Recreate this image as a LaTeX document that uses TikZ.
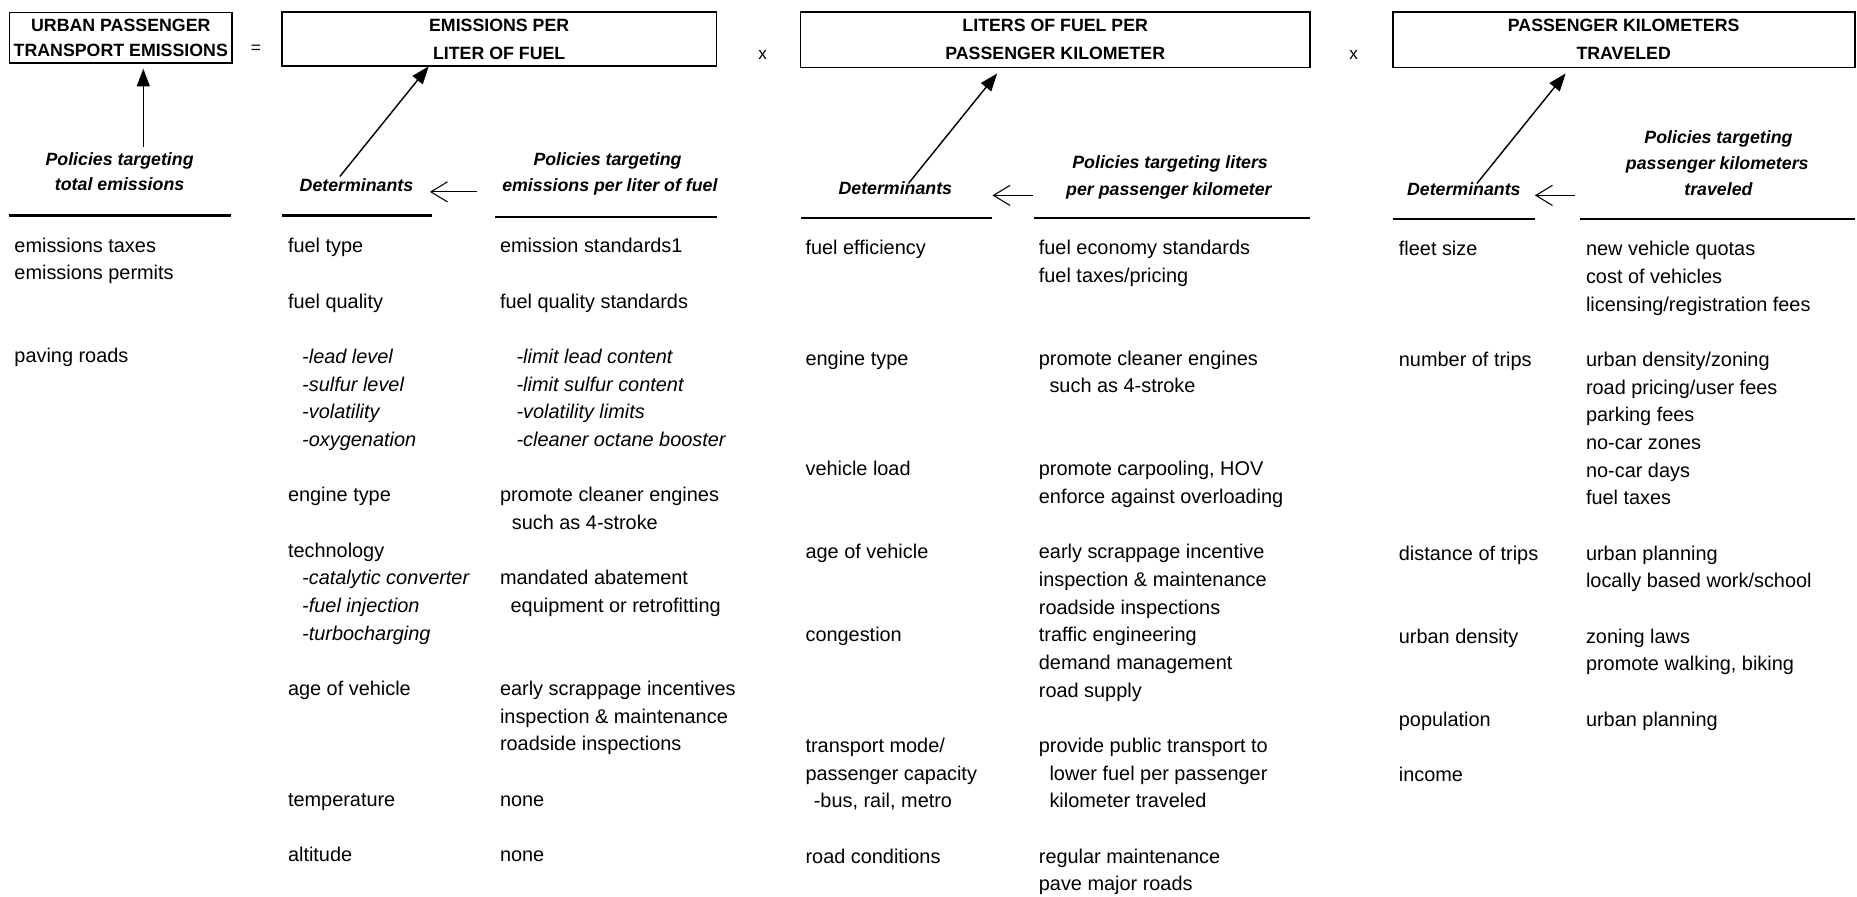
\documentclass[tikz,border=0pt]{standalone}
\usepackage{fontspec}
\setmainfont{Liberation Sans}
\usetikzlibrary{arrows.meta}
\newcommand\rowh{23.36}
\newcommand\blk[5]{\foreach \t [count=\i] in {#5}{\node[#4] (#1\i) at (#2,{#3+(\i-1)*\rowh}) {\t};}}
\begin{document}
\begin{tikzpicture}[x=1bp,y=-1bp,
 body/.style={anchor=base west, inner sep=0pt, font=\fontsize{16.8bp}{20bp}\selectfont},
 sub/.style={anchor=base west, inner sep=0pt, font=\fontsize{16.8bp}{20bp}\selectfont\itshape},
 head/.style={anchor=base, inner sep=0pt, font=\fontsize{15bp}{18bp}\selectfont\bfseries\itshape},
 caps/.style={anchor=base, inner sep=0pt, font=\fontsize{15bp}{18bp}\selectfont\bfseries},
 sym/.style={anchor=center, inner sep=0pt, font=\fontsize{14.5bp}{16bp}\selectfont},
 hbox/.style={draw, line width=1.5bp, inner sep=0pt},
 rule/.style={line width=1.8bp},
 bigarrow/.style={line width=1.2bp, -{Triangle[length=15bp,width=11bp]}},
 smallarrow/.style={line width=0.9bp, -{Straight Barb[length=14bp,width=17bp]}}]
\fill[white] (0,0) rectangle (1568,757);
\useasboundingbox (0,0) rectangle (1568,757);
% header boxes
\node[hbox, minimum width=188bp, minimum height=42.5bp] (b1) at (102,31.75) {};
\node[hbox, minimum width=367bp, minimum height=46bp] (b2) at (421.5,33) {};
\node[hbox, minimum width=430bp, minimum height=47bp] (b3) at (891,33.5) {};
\node[hbox, minimum width=390bp, minimum height=47bp] (b4) at (1371,33.5) {};
\node[caps] (b1t1) at (102,26.5) {URBAN PASSENGER};
\node[caps] (b1t2) at (102,47.5) {TRANSPORT EMISSIONS};
\node[caps] (b2t1) at (421.5,27) {EMISSIONS PER};
\node[caps] (b2t2) at (421.5,50.5) {LITER OF FUEL};
\node[caps] (b3t1) at (891,27) {LITERS OF FUEL PER};
\node[caps] (b3t2) at (891,50.5) {PASSENGER KILOMETER};
\node[caps] (b4t1) at (1371,27) {PASSENGER KILOMETERS};
\node[caps] (b4t2) at (1371,50.5) {TRAVELED};
\node[sym] (eq) at (216,42) {=};
\node[sym] (x1) at (644,46) {x};
\node[sym] (x2) at (1143,46) {x};
% headings
\node[head] (h1a) at (101,140) {Policies targeting};
\node[head] (h1b) at (101,161) {total emissions};
\node[head] (d2) at (301,162) {Determinants};
\node[head] (p2a) at (513,140) {Policies targeting};
\node[head] (p2b) at (515,162) {emissions per liter of fuel};
\node[head] (d3) at (756,164) {Determinants};
\node[head] (p3a) at (988,142) {Policies targeting liters};
\node[head] (p3b) at (987,165) {per passenger kilometer};
\node[head] (d4) at (1236,165) {Determinants};
\node[head] (p4a) at (1451,121) {Policies targeting};
\node[head] (p4b) at (1450,143) {passenger kilometers};
\node[head] (p4c) at (1451,165) {traveled};
% rules
\draw[rule] (8,182) -- (195,182);
\draw[rule] (238,182) -- (365,182);
\draw[rule] (418,183) -- (605,183);
\draw[rule] (676,184) -- (838,184);
\draw[rule] (873,184) -- (1106,184);
\draw[rule] (1176,185) -- (1296,185);
\draw[rule] (1334,185) -- (1566,185);
% arrow end points
\coordinate (a1s) at (121,124); \coordinate (a1t) at (121,58);
\coordinate (a2s) at (287,149); \coordinate (a2t) at (362,56);
\coordinate (a3s) at (767,155); \coordinate (a3t) at (842,62);
\coordinate (a4s) at (1247,155); \coordinate (a4t) at (1322,62);
\coordinate (l2s) at (403,162); \coordinate (l2t) at (363,162);
\coordinate (l3s) at (872,165); \coordinate (l3t) at (838,165);
\coordinate (l4s) at (1330,165); \coordinate (l4t) at (1296,165);
\draw[bigarrow] (a1s) -- (a1t);
\draw[bigarrow] (a2s) -- (a2t);
\draw[bigarrow] (a3s) -- (a3t);
\draw[bigarrow] (a4s) -- (a4t);
\draw[smallarrow] (l2s) -- (l2t);
\draw[smallarrow] (l3s) -- (l3t);
\draw[smallarrow] (l4s) -- (l4t);
% column 1
\blk{c1a}{12}{213}{body}{emissions taxes, emissions permits}
\blk{c1b}{12}{213+4*\rowh}{body}{paving roads}
% column 2 determinants
\blk{c2a}{243}{213.5}{body}{fuel type}
\blk{c2b}{243}{213.5+2*\rowh}{body}{fuel quality}
\blk{c2c}{255}{213.5+4*\rowh}{sub}{-lead level, -sulfur level, -volatility, -oxygenation}
\blk{c2d}{243}{213.5+9*\rowh}{body}{engine type}
\blk{c2e}{243}{213.5+11*\rowh}{body}{technology}
\blk{c2f}{255}{213.5+12*\rowh}{sub}{-catalytic converter, -fuel injection, -turbocharging}
\blk{c2g}{243}{213.5+16*\rowh}{body}{age of vehicle}
\blk{c2h}{243}{213.5+20*\rowh}{body}{temperature}
\blk{c2i}{243}{213.5+22*\rowh}{body}{altitude}
% column 2 policies
\blk{c2p}{422}{213.5}{body}{emission standards1}
\blk{c2q}{422}{213.5+2*\rowh}{body}{fuel quality standards}
\blk{c2r}{436}{213.5+4*\rowh}{sub}{-limit lead content, -limit sulfur content, -volatility limits, -cleaner octane booster}
\blk{c2s}{422}{213.5+9*\rowh}{body}{promote cleaner engines}
\blk{c2t}{432}{213.5+10*\rowh}{body}{such as 4-stroke}
\blk{c2u}{422}{213.5+12*\rowh}{body}{mandated abatement}
\blk{c2v}{431}{213.5+13*\rowh}{body}{equipment or retrofitting}
\blk{c2w}{422}{213.5+16*\rowh}{body}{early scrappage incentives, inspection \& maintenance, roadside inspections}
\blk{c2x}{422}{213.5+20*\rowh}{body}{none}
\blk{c2y}{422}{213.5+22*\rowh}{body}{none}
% column 3 determinants
\blk{c3a}{680}{215}{body}{fuel efficiency}
\blk{c3b}{680}{215+4*\rowh}{body}{engine type}
\blk{c3c}{680}{215+8*\rowh}{body}{vehicle load}
\blk{c3d}{680}{215+11*\rowh}{body}{age of vehicle}
\blk{c3e}{680}{215+14*\rowh}{body}{congestion}
\blk{c3f}{680}{215+18*\rowh}{body}{transport mode/, passenger capacity}
\blk{c3g}{687}{215+20*\rowh}{body}{{-bus, rail, metro}}
\blk{c3h}{680}{215+22*\rowh}{body}{road conditions}
% column 3 policies
\blk{c3p}{877}{215}{body}{fuel economy standards, fuel taxes/pricing}
\blk{c3q}{877}{215+4*\rowh}{body}{promote cleaner engines}
\blk{c3r}{886}{215+5*\rowh}{body}{such as 4-stroke}
\blk{c3s}{877}{215+8*\rowh}{body}{{promote carpooling, HOV}, enforce against overloading}
\blk{c3t}{877}{215+11*\rowh}{body}{early scrappage incentive, inspection \& maintenance, roadside inspections, traffic engineering, demand management, road supply}
\blk{c3u}{877}{215+18*\rowh}{body}{provide public transport to}
\blk{c3v}{886}{215+19*\rowh}{body}{lower fuel per passenger, kilometer traveled}
\blk{c3w}{877}{215+22*\rowh}{body}{regular maintenance, pave major roads}
% column 4 determinants
\blk{c4a}{1181}{216}{body}{fleet size}
\blk{c4b}{1181}{216+4*\rowh}{body}{number of trips}
\blk{c4c}{1181}{216+11*\rowh}{body}{distance of trips}
\blk{c4d}{1181}{216+14*\rowh}{body}{urban density}
\blk{c4e}{1181}{216+17*\rowh}{body}{population}
\blk{c4f}{1181}{216+19*\rowh}{body}{income}
% column 4 policies
\blk{c4p}{1339}{216}{body}{new vehicle quotas, cost of vehicles, licensing/registration fees}
\blk{c4q}{1339}{216+4*\rowh}{body}{urban density/zoning, road pricing/user fees, parking fees, no-car zones, no-car days, fuel taxes}
\blk{c4r}{1339}{216+11*\rowh}{body}{urban planning, locally based work/school}
\blk{c4s}{1339}{216+14*\rowh}{body}{zoning laws, {promote walking, biking}}
\blk{c4t}{1339}{216+17*\rowh}{body}{urban planning}
\end{tikzpicture}
\end{document}
